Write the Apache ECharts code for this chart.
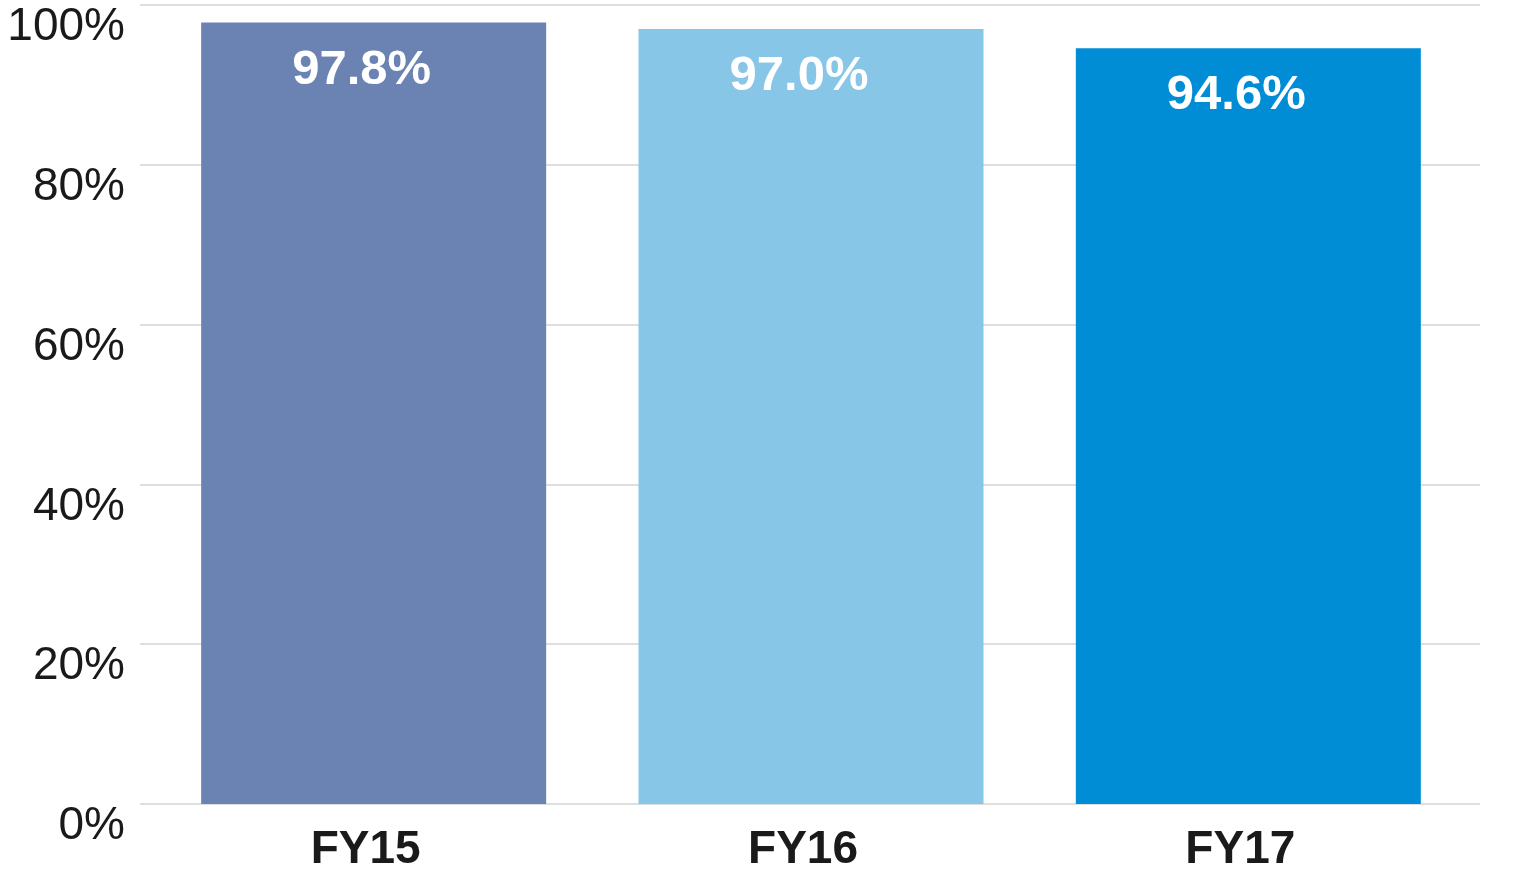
<!DOCTYPE html>
<html>
<head>
<meta charset="utf-8">
<script src="https://cdn.jsdelivr.net/npm/echarts@6/dist/echarts.min.js"></script>
<style>html,body{margin:0;padding:0;background:#fff}#c{width:1534px;height:890px}</style>
</head>
<body>
<div id="c"></div>
<script>
const categories = ['FY15', 'FY16', 'FY17'];
const values = [97.8, 97.0, 94.6];
const barColors = ['#6b83b2', '#88c6e8', '#008dd6'];
const yTicks = [0, 20, 40, 60, 80, 100];

const FONT = '"Liberation Sans", Arial, Helvetica, sans-serif';
const chart = echarts.init(document.getElementById('c'), null, {renderer: 'canvas'});
chart.setOption({
  animation: false,
  backgroundColor: '#ffffff',
  grid: [
    {left: 155, right: 67, top: 5, bottom: 86, containLabel: false, outerBoundsMode: 'none'},
    {left: 140, right: 54, top: 5, bottom: 86, containLabel: false, outerBoundsMode: 'none'}
  ],
  xAxis: [
    {
      type: 'category', gridIndex: 0, data: categories,
      axisLine: {show: false}, axisTick: {show: false},
      axisLabel: {fontFamily: FONT, fontSize: 46, fontWeight: 'bold', color: '#1a1a1a', margin: 23, padding: [0, 16, 0, 0]}
    },
    {
      type: 'category', gridIndex: 1, data: categories, show: false
    }
  ],
  yAxis: [
    {
      type: 'value', gridIndex: 0, min: yTicks[0], max: yTicks[yTicks.length - 1], interval: 20,
      axisLabel: {show: false}, splitLine: {show: false}, axisLine: {show: false}, axisTick: {show: false}
    },
    {
      type: 'value', gridIndex: 1, min: yTicks[0], max: yTicks[yTicks.length - 1], interval: 20,
      axisLine: {show: false}, axisTick: {show: false},
      splitLine: {show: true, lineStyle: {color: '#dedede', width: 2}},
      axisLabel: {
        fontFamily: FONT, fontSize: 46, color: '#1a1a1a', margin: 15,
        verticalAlign: 'top', lineHeight: 45,
        formatter: v => v + '%'
      }
    }
  ],
  series: [{
    type: 'bar', xAxisIndex: 0, yAxisIndex: 0,
    barWidth: 345,
    data: values.map((v, i) => ({value: v, itemStyle: {color: barColors[i]}})),
    label: {
      show: true, position: 'insideTop', distance: 23, offset: [-12, 0],
      fontFamily: FONT, fontSize: 49, fontWeight: 'bold', color: '#ffffff',
      formatter: p => p.value.toFixed(1) + '%'
    }
  }]
});
</script>
</body>
</html>
